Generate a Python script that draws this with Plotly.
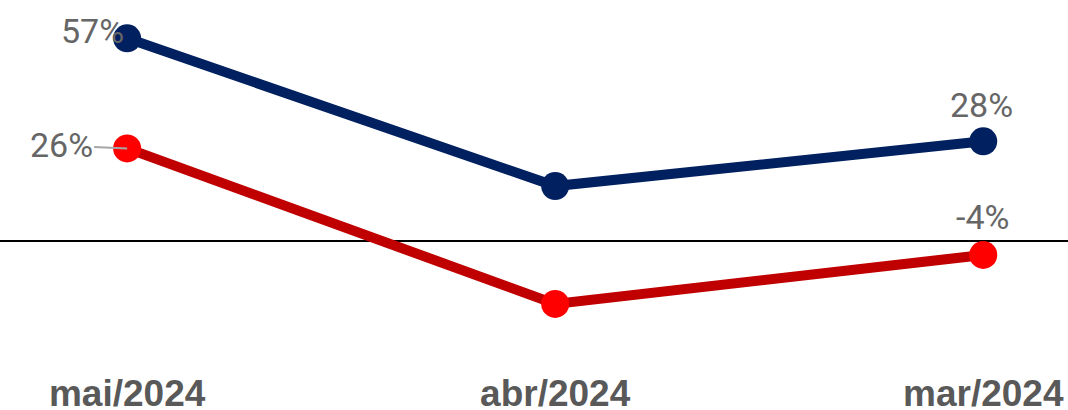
import plotly.graph_objects as go

categories = ["mai/2024", "abr/2024", "mar/2024"]
serie_azul = [57, 15.4, 28]
serie_vermelha = [26, -17.8, -4]
rotulos_azul = ["57%", "", "28%"]
rotulos_vermelha = ["26%", "", "-4%"]

NAVY = "#002060"
DARK_RED = "#C00000"
RED = "#FF0000"
LABEL_GRAY = "#666666"

fig = go.Figure()
fig.add_trace(go.Scatter(
    x=categories, y=serie_azul, mode="lines+markers",
    line=dict(color=NAVY, width=10),
    marker=dict(color=NAVY, size=28),
    showlegend=False, hoverinfo="skip"))
fig.add_trace(go.Scatter(
    x=categories, y=serie_vermelha, mode="lines+markers",
    line=dict(color=DARK_RED, width=10),
    marker=dict(color=RED, size=28),
    showlegend=False, hoverinfo="skip"))

lab_font = dict(family="Roboto, Open Sans, sans-serif", size=34, color=LABEL_GRAY)

# 57% (left of point)
fig.add_annotation(x=categories[0], y=serie_azul[0], text=rotulos_azul[0],
                   showarrow=False, xshift=-35, yshift=7, font=lab_font)
# 28% (above)
fig.add_annotation(x=categories[2], y=serie_azul[2], text=rotulos_azul[2],
                   showarrow=False, xshift=-2, yshift=36, font=lab_font)
# -4% (above)
fig.add_annotation(x=categories[2], y=serie_vermelha[2], text=rotulos_vermelha[2],
                   showarrow=False, xshift=-1, yshift=38, font=lab_font)
# 26% with leader line
fig.add_annotation(x=categories[0], y=serie_vermelha[0], text=rotulos_vermelha[0],
                   showarrow=True, arrowhead=0, arrowwidth=2, arrowcolor="#A6A6A6",
                   ax=-66, ay=-3, standoff=0, font=lab_font)

fig.update_layout(
    width=1068, height=410,
    margin=dict(l=0, r=0, t=0, b=50),
    plot_bgcolor="white", paper_bgcolor="white",
    xaxis=dict(type="category", range=[-0.297, 2.198], showgrid=False,
               showline=False, ticks="", zeroline=False, ticklabelstandoff=8,
               automargin=False,
               tickfont=dict(family="Liberation Sans, Arial, sans-serif",
                             size=37, color="#595959", weight="bold")),
    yaxis=dict(range=[-33.6, 67.8], showgrid=False, showticklabels=False,
               zeroline=True, zerolinecolor="#000000", zerolinewidth=1.5,
               showline=False, ticks="", automargin=False),
)

fig.write_html("out.html", config={"displayModeBar": False},
               post_script="document.body.style.margin='0';")
